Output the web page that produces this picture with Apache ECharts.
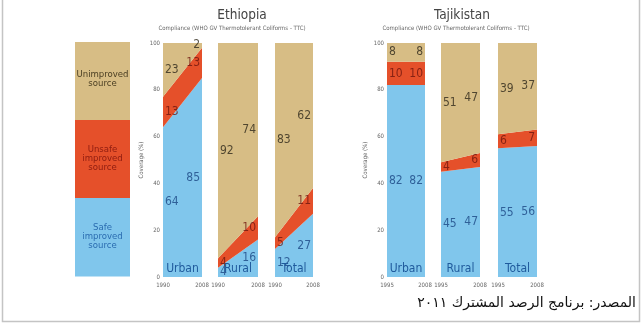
<!DOCTYPE html>
<html><head><meta charset="utf-8">
<script src="https://cdn.jsdelivr.net/npm/echarts@6/dist/echarts.min.js"></script>
<style>html,body{margin:0;padding:0;background:#fff}#c{width:642px;height:324px}</style>
</head><body><div id="c"></div>
<script>
// ---- data ----
const groups = ['Urban', 'Rural', 'Total'];
const ethYears = ['1990', '2008'];
const tajYears = ['1995', '2008'];
// per group [first year, 2008], order: Urban, Rural, Total
const ethSafe = [[64, 85], [4, 16], [12, 27]];
const ethUnsafe = [[13, 13], [4, 10], [5, 11]];
const ethUnimproved = [[23, 2], [92, 74], [83, 62]];
const tajSafe = [[82, 82], [45, 47], [55, 56]];
const tajUnsafe = [[10, 10], [4, 6], [6, 7]];
const tajUnimproved = [[8, 8], [51, 47], [39, 37]];
const yTicks = [0, 20, 40, 60, 80, 100];
const legendNames = ['Unimproved\nsource', 'Unsafe\nimproved\nsource', 'Safe\nimproved\nsource'];
const countryNames = ['Ethiopia', 'Tajikistan'];
const subtitle = 'Compliance (WHO GV Thermotolerant Coliforms - TTC)';
const yName = 'Coverage (%)';
const source = 'المصدر: برنامج الرصد المشترك ٢٠١١';

// ---- style ----
const C_TAN = '#d7bd85', C_RED = '#e5502a', C_BLUE = '#80c6ec';
const T_TAN = '#2e281a', T_RED = '#6e150e', T_BLUE = '#1a4683';
const FONT = "'Liberation Sans Narrow','DejaVu Sans Condensed',sans-serif";
const TOP = 43, H = 234;
const layout = [
  {left: 163, width: 39}, {left: 218, width: 40}, {left: 275, width: 38},
  {left: 387, width: 38}, {left: 441, width: 39}, {left: 498, width: 39}
];

const panels = [];
groups.forEach((g, i) => panels.push({g, years: ethYears, s: ethSafe[i], u: ethUnsafe[i], n: ethUnimproved[i], first: i === 0}));
groups.forEach((g, i) => panels.push({g, years: tajYears, s: tajSafe[i], u: tajUnsafe[i], n: tajUnimproved[i], first: i === 0}));

const grid = [], xAxis = [], yAxis = [], series = [], graphic = [];
panels.forEach((p, k) => {
  grid.push({left: layout[k].left, width: layout[k].width, top: TOP, height: H});
  xAxis.push({type: 'category', gridIndex: k, data: p.years, boundaryGap: false,
    axisLine: {show: false}, axisTick: {show: false},
    axisLabel: {fontSize: 6, color: '#666', margin: 5, fontFamily: FONT, interval: 0}});
  yAxis.push({type: 'value', gridIndex: k, min: 0, max: 100, interval: 20,
    axisLine: {show: false}, axisTick: {show: false}, splitLine: {show: false},
    axisLabel: {show: p.first, fontSize: 6, color: '#666', margin: 3, fontFamily: FONT},
    name: p.first ? yName : '', nameLocation: 'middle', nameRotate: 90, nameGap: 19,
    nameTextStyle: {fontSize: 6, color: '#666', fontFamily: FONT}});
  const layers = [[p.s, C_BLUE, T_BLUE], [p.u, C_RED, T_RED], [p.n, C_TAN, T_TAN]];
  layers.forEach(([vals, col]) => {
    series.push({type: 'line', xAxisIndex: k, yAxisIndex: k, stack: 'g' + k, data: vals.slice(),
      symbol: 'none', lineStyle: {width: 0}, areaStyle: {color: col, opacity: 1}, silent: true,
      itemStyle: {color: col}});
  });
  // labels at segment midpoints
  const lab = [];
  [0, 1].forEach(xi => {
    let base = 0;
    layers.forEach(([vals, , tc]) => {
      const v = vals[xi];
      lab.push({value: [xi, base + v / 2], name: String(v),
        label: {color: tc, align: xi === 0 ? 'left' : 'right', offset: [xi === 0 ? 2 : -2, 0]}});
      base += v;
    });
  });
  series.push({type: 'scatter', xAxisIndex: k, yAxisIndex: k, data: lab, symbolSize: 0, silent: true, z: 5,
    label: {show: true, position: 'inside', formatter: d => d.name, fontSize: 12, fontFamily: FONT,
      verticalAlign: 'middle'}});
  graphic.push({type: 'text', x: layout[k].left + layout[k].width / 2, y: TOP + H - 8, z: 10,
    style: {text: p.g, fill: '#1f5a9c', fontSize: 12, fontFamily: FONT, align: 'center', verticalAlign: 'middle'}});
});

// legend box
const LX = 75, LW = 55, LT = 42, LH = 234;
const legCols = [C_TAN, C_RED, C_BLUE], legText = ['#4a3e22', '#8e1c10', '#2a6cb0'];
legendNames.forEach((nm, i) => {
  graphic.push({type: 'rect', shape: {x: LX, y: LT + i * LH / 3, width: LW, height: LH / 3 + 0.5},
    style: {fill: legCols[i]}});
  graphic.push({type: 'text', x: LX + LW / 2, y: LT + i * LH / 3 + LH / 6 + (i === 0 ? -2 : 0),
    style: {text: nm, fill: legText[i], fontSize: 9.5, lineHeight: 9, fontFamily: FONT, align: 'center', verticalAlign: 'middle'}});
});
// titles
countryNames.forEach((nm, i) => {
  graphic.push({type: 'text', x: [242, 462][i], y: 15, style: {text: nm, fill: '#444', fontSize: 13.5,
    fontFamily: FONT, align: 'center', verticalAlign: 'middle'}});
  graphic.push({type: 'text', x: [232, 456][i], y: 28, style: {text: subtitle, fill: '#666', fontSize: 6,
    fontFamily: FONT, align: 'center', verticalAlign: 'middle'}});
});
graphic.push({type: 'text', x: 636, y: 303, style: {text: source, fill: '#111', fontSize: 14,
  fontFamily: "'DejaVu Sans',sans-serif", align: 'right', verticalAlign: 'middle'}});
graphic.push({type: 'polyline', shape: {points: [[2.5, 0], [2.5, 321.5], [639.5, 321.5], [639.5, 0]]},
  style: {stroke: '#c4c4c4', lineWidth: 1.5, fill: null}});

const chart = echarts.init(document.getElementById('c'), null, {renderer: 'canvas'});
chart.setOption({animation: false, backgroundColor: '#fff', grid, xAxis, yAxis, series, graphic});
</script></body></html>
